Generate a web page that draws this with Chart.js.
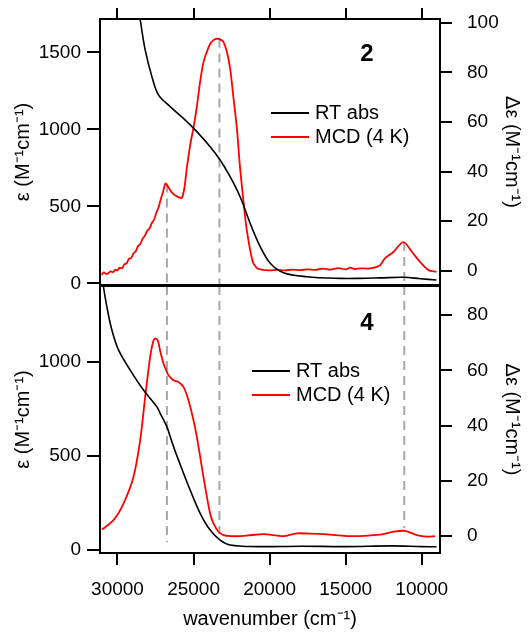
<!DOCTYPE html>
<html>
<head>
<meta charset="utf-8">
<script src="https://cdn.jsdelivr.net/npm/chart.js@4.4.1/dist/chart.umd.min.js"></script>
<style>
  body { margin: 0; background: #fff; }
  #wrap { position: relative; width: 532px; height: 640px; }
  canvas { position: absolute; left: 0; }
  #topChart { top: 0; }
  #bottomChart { top: 285px; }
</style>
</head>
<body>
<div id="wrap">
  <canvas id="topChart" width="532" height="300"></canvas>
  <canvas id="bottomChart" width="532" height="355"></canvas>
</div>
<script>
const FONT = "'Liberation Sans', Arial, sans-serif";

// shared wavenumber axis (cm-1), drawn high -> low
const xMin = 8800, xMax = 31150;
const xTicks = [30000, 25000, 20000, 15000, 10000];

// tick labels
const eps2Ticks = [0, 500, 1000, 1500];
const deps2Ticks = [0, 20, 40, 60, 80, 100];
const eps4Ticks = [0, 500, 1000];
const deps4Ticks = [0, 20, 40, 60, 80];

// compound 2 : room temperature absorption (left axis) and MCD (right axis)
const abs2Wavenumber = [28750, 28508, 28180, 27740, 27306, 26538, 25664, 24784, 23910, 23253, 22596, 21940, 21280, 20620, 19960, 19094, 17556, 15370, 14054, 12740, 11210, 10100, 9030];
const abs2Eps = [1900, 1715, 1515, 1342, 1223, 1147, 1071, 985, 887, 801, 692, 562, 390, 238, 130, 69, 43, 32, 32, 35, 39, 30, 21];

const mcd2Wavenumber = [31050, 30900, 30750, 30600, 30450, 30300, 30150, 30000, 29850, 29700, 29550, 29400, 29250, 29100, 28950, 28800, 28650, 28500, 28350, 28200, 28050, 27900, 27750, 27600, 27450, 27300, 27150, 27000, 26850, 26700, 26500, 26300, 26100, 25900, 25770, 25600, 25440, 25200, 25007, 24800, 24566, 24350, 24126, 23900, 23690, 23450, 23250, 23036, 22800, 22596, 22400, 22155, 21950, 21722, 21550, 21393, 21200, 21064, 20850, 20620, 20000, 19500, 19000, 18500, 18000, 17500, 17000, 16500, 16000, 15500, 15000, 14700, 14400, 14054, 13397, 12740, 12412, 11867, 11210, 10638, 10113, 9557, 9032];
const mcd2DeltaEps = [-1.6, -0.6, -1.2, -0.9, -0.2, -0.6, 0.4, 0.2, 1.3, 1.0, 2.6, 3.1, 4.8, 5.2, 7.0, 7.9, 10.0, 10.8, 13.0, 14.1, 16.2, 17.0, 19.2, 20.6, 23.4, 25.6, 29.0, 32.0, 35.2, 34.2, 32.2, 30.8, 30.0, 29.5, 29.4, 33.5, 41.6, 51.5, 57.6, 65.5, 76.3, 84.0, 88.3, 91.5, 93.0, 93.6, 93.3, 92.3, 88.0, 81.6, 71.0, 57.6, 42.0, 28.3, 18.5, 12.3, 6.0, 3.0, 1.2, 0.6, 0.2, 0.4, 0.2, 0.5, 0.3, 0.6, 0.4, 0.9, 0.5, 1.1, 0.6, 1.3, 0.7, 1.0, 1.0, 2.3, 5.1, 7.6, 11.6, 7.6, 3.6, 0.3, -0.4];

// compound 4
const abs4Wavenumber = [31150, 30920, 30700, 30370, 29934, 29166, 28292, 27412, 27195, 26755, 26538, 26210, 25880, 25224, 24566, 23910, 23253, 22596, 20842, 18000, 15000, 12000, 10000, 9030];
const abs4Eps = [1560, 1400, 1294, 1170, 1064, 957, 851, 762, 727, 656, 603, 525, 455, 319, 195, 106, 53, 27, 18, 20, 18, 22, 18, 17];

const mcd4Wavenumber = [31025, 30263, 29606, 28950, 28508, 28180, 27852, 27650, 27523, 27350, 27195, 26950, 26755, 26650, 26320, 25992, 25664, 25335, 25007, 24784, 24455, 24238, 23910, 23690, 23364, 23036, 22500, 21940, 21000, 20408, 19500, 19094, 18213, 17300, 16466, 15500, 14712, 13500, 12524, 11866, 11100, 10330, 9670, 9128];
const mcd4DeltaEps = [2.4, 5.8, 11.8, 21.4, 34.7, 50.4, 64.9, 70.5, 71.5, 70.8, 67.0, 62.0, 59.5, 58.2, 56.4, 55.8, 54.0, 49.2, 42.0, 35.9, 25.0, 17.8, 8.2, 4.6, 1.6, 0.4, 0, 0, 0.5, 0.7, 0.2, 0, 1.0, 0.9, 0.7, 0.3, 0, 0.2, 0.7, 1.6, 1.9, 0.4, -0.2, 0];

// dashed guide lines (cm-1) and where they stop (in Δε units)
const guideWavenumber = [26750, 23300, 11150];
const guide2From = [35.2, 93.6, 11.6];
const guide4To = [-2.2, 1.0, 2.9];

const toXY = (ws, ys) => ws.map((w, i) => ({ x: w, y: ys[i] }));

const panelDecor = {
  id: 'panelDecor',
  afterDatasetsDraw(chart, args, opts) {
    const { ctx, chartArea: a } = chart;
    ctx.save();
    ctx.strokeStyle = '#000';
    ctx.lineWidth = 2;
    ctx.strokeRect(a.left, a.top, a.right - a.left, a.bottom - a.top);

    ctx.fillStyle = '#000';
    ctx.textBaseline = 'middle';
    ctx.textAlign = 'center';
    ctx.font = 'bold 24px ' + FONT;
    ctx.fillText(opts.tag, opts.tagX, opts.tagY);

    // legend from the labelled datasets
    ctx.textAlign = 'left';
    ctx.font = '20px ' + FONT;
    let y = opts.legendY;
    chart.data.datasets.filter(d => d.label).forEach(d => {
      ctx.strokeStyle = d.borderColor;
      ctx.lineWidth = 2;
      ctx.beginPath();
      ctx.moveTo(opts.legendX, y);
      ctx.lineTo(opts.legendX + 38, y);
      ctx.stroke();
      ctx.fillText(d.label, opts.legendX + 44, y);
      y += 24;
    });
    ctx.restore();
  }
};

function tickGrid(len) {
  return { drawOnChartArea: false, tickLength: len, tickColor: '#000', lineWidth: 2 };
}

// fixed box size, no extra room reserved for overhanging labels
function fixBox(prop, size) {
  return s => {
    s[prop] = size;
    s.paddingTop = 0; s.paddingBottom = 0; s.paddingLeft = 0; s.paddingRight = 0;
  };
}

const useTicks = list => s => { s.ticks = list.map(v => ({ value: v })); };

function yScales(left, right) {
  return {
    yL: {
      type: 'linear', position: 'left', min: left.min, max: left.max,
      afterBuildTicks: useTicks(left.ticks),
      afterFit: fixBox('width', 100),
      border: { display: false },
      grid: tickGrid(13),
      ticks: { color: '#000', padding: 6, font: { family: FONT, size: 19 }, callback: v => String(v) },
      title: { display: true, text: 'ε (M⁻¹cm⁻¹)', color: '#000', font: { family: FONT, size: 20 }, padding: { top: 11 } }
    },
    yR: {
      type: 'linear', position: 'right', min: right.min, max: right.max,
      afterBuildTicks: useTicks(right.ticks),
      afterFit: fixBox('width', 92),
      border: { display: false },
      grid: tickGrid(12),
      ticks: { color: '#000', padding: 15, font: { family: FONT, size: 19 }, callback: v => String(v) },
      title: { display: true, text: 'Δε (M⁻¹cm⁻¹)', color: '#000', font: { family: FONT, size: 20 }, padding: { top: 8 } }
    }
  };
}

function guides(fromVals, toVals) {
  return guideWavenumber.map((w, i) => ({
    data: [{ x: w, y: fromVals[i] }, { x: w, y: toVals[i] }],
    yAxisID: 'yR',
    borderColor: '#a8a8a8',
    borderWidth: 2,
    borderDash: [9, 6],
    pointRadius: 0
  }));
}

function curves(absData, mcdData) {
  return [
    { label: 'RT abs', data: absData, yAxisID: 'yL', borderColor: '#000', borderWidth: 1.6, pointRadius: 0, tension: 0.35 },
    { label: 'MCD (4 K)', data: mcdData, yAxisID: 'yR', borderColor: '#ff0000', borderWidth: 1.8, pointRadius: 0, tension: 0.3 }
  ];
}

const topRight = { min: -5.7, max: 101.5, ticks: deps2Ticks };
const botRight = { min: -6.1, max: 90.5, ticks: deps4Ticks };

new Chart(document.getElementById('topChart'), {
  type: 'line',
  data: {
    datasets: [
      ...curves(toXY(abs2Wavenumber, abs2Eps), toXY(mcd2Wavenumber, mcd2DeltaEps)),
      ...guides(guide2From, guide2From.map(() => topRight.min))
    ]
  },
  options: {
    responsive: false,
    animation: false,
    layout: { padding: { top: 0, bottom: 15, left: 0, right: 0 } },
    plugins: {
      legend: { display: false },
      tooltip: { enabled: false },
      panelDecor: { tag: '2', tagX: 367, tagY: 54, legendX: 271, legendY: 113 }
    },
    scales: {
      x: {
        type: 'linear', position: 'top', reverse: true, min: xMin, max: xMax,
        afterBuildTicks: useTicks(xTicks),
        afterFit: fixBox('height', 19),
        border: { display: false },
        grid: tickGrid(11),
        ticks: { display: false }
      },
      ...yScales({ min: -11, max: 1716, ticks: eps2Ticks }, topRight)
    }
  },
  plugins: [panelDecor]
});

new Chart(document.getElementById('bottomChart'), {
  type: 'line',
  data: {
    datasets: [
      ...curves(toXY(abs4Wavenumber, abs4Eps), toXY(mcd4Wavenumber, mcd4DeltaEps)),
      ...guides(guide4To.map(() => botRight.max), guide4To)
    ]
  },
  options: {
    responsive: false,
    animation: false,
    layout: { padding: { top: 1, bottom: 0, left: 0, right: 0 } },
    plugins: {
      legend: { display: false },
      tooltip: { enabled: false },
      panelDecor: { tag: '4', tagX: 367, tagY: 38, legendX: 252, legendY: 86 }
    },
    scales: {
      x: {
        type: 'linear', position: 'bottom', reverse: true, min: xMin, max: xMax,
        afterBuildTicks: useTicks(xTicks),
        afterFit: fixBox('height', 87),
        border: { display: false },
        grid: tickGrid(12),
        ticks: { autoSkip: false, maxRotation: 0, padding: 13, color: '#000', font: { family: FONT, size: 19 }, callback: v => String(v) },
        title: { display: true, text: 'wavenumber (cm⁻¹)', color: '#000', font: { family: FONT, size: 20 }, padding: { bottom: 9 } }
      },
      ...yScales({ min: -16, max: 1404, ticks: eps4Ticks }, botRight)
    }
  },
  plugins: [panelDecor]
});
</script>
</body>
</html>
